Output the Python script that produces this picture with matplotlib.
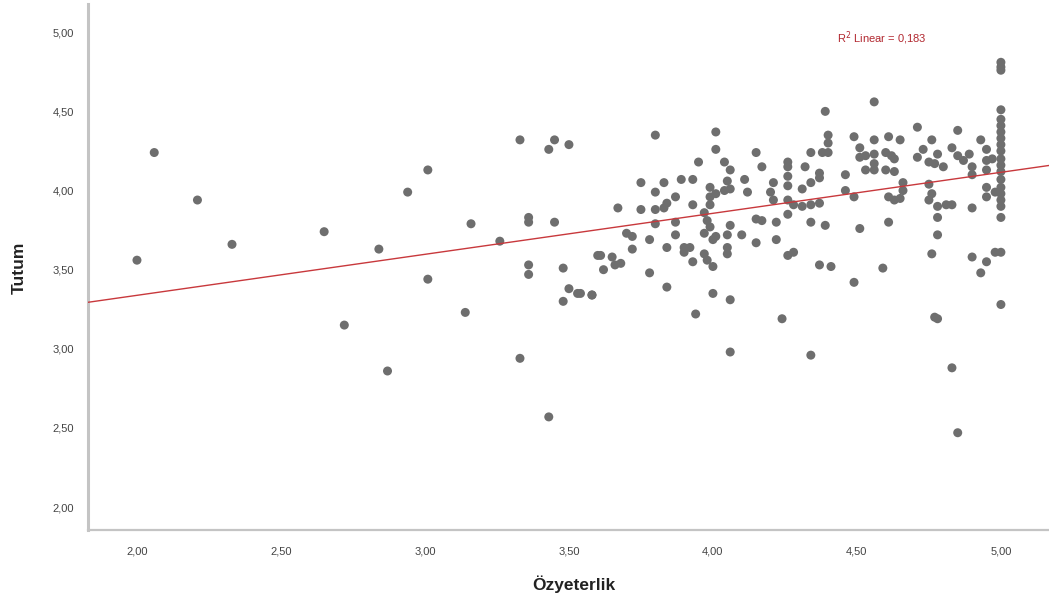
import matplotlib
matplotlib.use("Agg")
import matplotlib.pyplot as plt
from matplotlib.ticker import FuncFormatter
import numpy as np

plt.rcParams["font.family"] = ["Liberation Sans", "DejaVu Sans"]

# --- Data ---
ozyeterlik = [
    2.06, 2.21, 2.00, 2.33, 2.65, 2.84, 2.72, 2.87, 2.94, 3.01, 3.01, 3.16, 3.14, 3.26,
    3.33, 3.36, 3.36, 3.36, 3.36, 3.33, 3.43, 3.43, 3.45, 3.50, 3.45, 3.48, 3.50, 3.53,
    3.48, 3.58, 3.60,
    4.39, 4.56, 3.80, 4.01, 4.01, 4.15, 4.34, 4.40, 4.40, 4.40, 4.38, 4.49, 4.56, 4.61,
    4.65, 4.71, 4.76, 4.85, 4.93, 3.95, 4.04, 4.06, 4.17, 4.26, 4.26, 4.32, 4.51, 4.51,
    4.53, 4.56, 4.56, 4.53, 4.56, 4.60, 4.62, 4.63, 4.60, 4.63, 4.71, 4.73, 4.75, 4.77,
    4.78, 4.80, 4.83, 4.85, 4.87, 4.89, 4.90, 4.90, 4.95, 4.95, 4.95, 4.97, 4.46, 4.46,
    4.49, 3.75, 3.83, 3.89, 3.93, 3.80, 3.87, 3.84, 3.80, 3.75, 3.83, 3.67, 3.93, 3.99,
    3.99, 3.99, 4.01, 4.04, 4.05, 4.06, 4.11, 4.12, 4.21, 4.20, 4.21, 4.26, 4.26, 4.26,
    4.28, 4.31, 4.34, 4.37, 4.31, 4.34, 4.37, 4.37, 4.61, 4.63, 4.65, 4.66, 4.66, 4.75,
    4.76, 4.75, 4.78, 4.81, 4.83, 4.78, 4.90, 4.95, 4.95, 4.98,
    5.00, 5.00, 5.00, 5.00, 5.00, 5.00, 5.00, 5.00, 5.00, 5.00, 5.00, 5.00, 5.00, 5.00,
    5.00, 5.00, 5.00, 5.00, 5.00, 5.00, 5.00,
    3.80, 3.87, 3.87, 3.78, 3.72, 3.70, 3.72, 3.61, 3.65, 3.68, 3.62, 3.66, 3.78, 3.84,
    3.84, 3.90, 3.92, 3.90, 3.93, 3.97, 3.98, 3.99, 3.97, 4.00, 4.01, 4.05, 4.06, 4.10,
    4.05, 4.05, 3.97, 3.98, 4.00, 4.00, 4.06, 3.94, 4.06, 4.15, 4.17, 4.15, 4.22, 4.22,
    4.26, 4.26, 4.28, 4.24, 4.34, 4.39, 4.34, 4.37, 4.41, 4.49, 4.51, 4.61, 4.59, 4.78,
    4.76, 4.90, 4.93, 4.95, 4.98, 4.78, 3.54, 3.58, 4.83, 4.85, 4.77,
]
tutum = [
    4.24, 3.94, 3.56, 3.66, 3.74, 3.63, 3.15, 2.86, 3.99, 4.13, 3.44, 3.79, 3.23, 3.68,
    4.32, 3.83, 3.80, 3.53, 3.47, 2.94, 2.57, 4.26, 4.32, 4.29, 3.80, 3.51, 3.38, 3.35,
    3.30, 3.34, 3.59,
    4.50, 4.56, 4.35, 4.37, 4.26, 4.24, 4.24, 4.35, 4.30, 4.24, 4.24, 4.34, 4.32, 4.34,
    4.32, 4.40, 4.32, 4.38, 4.32, 4.18, 4.18, 4.13, 4.15, 4.18, 4.15, 4.15, 4.27, 4.21,
    4.22, 4.23, 4.17, 4.13, 4.13, 4.24, 4.22, 4.20, 4.13, 4.12, 4.21, 4.26, 4.18, 4.17,
    4.23, 4.15, 4.27, 4.22, 4.19, 4.23, 4.15, 4.10, 4.26, 4.19, 4.13, 4.20, 4.10, 4.00,
    3.96, 4.05, 4.05, 4.07, 4.07, 3.99, 3.96, 3.92, 3.88, 3.88, 3.89, 3.89, 3.91, 4.02,
    3.96, 3.91, 3.98, 4.00, 4.06, 4.01, 4.07, 3.99, 4.05, 3.99, 3.94, 4.09, 4.03, 3.94,
    3.91, 3.90, 3.91, 3.92, 4.01, 4.05, 4.08, 4.11, 3.96, 3.94, 3.95, 4.05, 4.00, 4.04,
    3.98, 3.94, 3.90, 3.91, 3.91, 3.83, 3.89, 4.02, 3.96, 3.99,
    4.81, 4.78, 4.76, 4.51, 4.45, 4.41, 4.37, 4.33, 4.29, 4.25, 4.20, 4.16, 4.12, 4.07,
    4.02, 3.98, 3.94, 3.90, 3.83, 3.61, 3.28,
    3.79, 3.80, 3.72, 3.69, 3.63, 3.73, 3.71, 3.59, 3.58, 3.54, 3.50, 3.53, 3.48, 3.39,
    3.64, 3.64, 3.64, 3.61, 3.55, 3.86, 3.81, 3.77, 3.73, 3.69, 3.71, 3.72, 3.78, 3.72,
    3.64, 3.60, 3.60, 3.56, 3.52, 3.35, 3.31, 3.22, 2.98, 3.82, 3.81, 3.67, 3.80, 3.69,
    3.85, 3.59, 3.61, 3.19, 3.80, 3.78, 2.96, 3.53, 3.52, 3.42, 3.76, 3.80, 3.51, 3.72,
    3.60, 3.58, 3.48, 3.55, 3.61, 3.19, 3.35, 3.34, 2.88, 2.47, 3.20,
]

fit_intercept = 2.82
fit_slope = 0.259
r2_label = "R$^2$ Linear = 0,183"

x_ticks = [2.0, 2.5, 3.0, 3.5, 4.0, 4.5, 5.0]
y_ticks = [2.0, 2.5, 3.0, 3.5, 4.0, 4.5, 5.0]
x_label = "Özyeterlik"
y_label = "Tutum"

# --- Figure ---
fig = plt.figure(figsize=(10.49, 6.01), dpi=100)
ax = fig.add_axes([0.0839, 0.118, 0.9161, 0.875])

ax.scatter(ozyeterlik, tutum, s=42, color="#6e6e6e", edgecolors="none", zorder=2)

xlim = (1.83, 5.167)
ylim = (1.855, 5.177)
xs = np.array(xlim)
ax.plot(xs, fit_intercept + fit_slope * xs, color="#c8383c", lw=1.0, zorder=3)

ax.set_xlim(*xlim)
ax.set_ylim(*ylim)

fmt = FuncFormatter(lambda v, p: f"{v:.2f}".replace(".", ","))
ax.set_xticks(x_ticks)
ax.set_yticks(y_ticks)
ax.xaxis.set_major_formatter(fmt)
ax.yaxis.set_major_formatter(fmt)
ax.tick_params(axis="both", length=0, labelsize=8, labelcolor="#444444")
ax.tick_params(axis="x", pad=12)
ax.tick_params(axis="y", pad=10)

for s in ["top", "right"]:
    ax.spines[s].set_visible(False)
ax.spines["left"].set_color("#c4c4c4")
ax.spines["left"].set_linewidth(2.2)
ax.spines["bottom"].set_color("#c4c4c4")
ax.spines["bottom"].set_linewidth(1.6)

ax.set_xlabel(x_label, fontsize=12.5, fontweight="bold", color="#222222")
ax.set_ylabel(y_label, fontsize=12.5, fontweight="bold", color="#222222")
ax.yaxis.set_label_coords(-0.064, (530 - 268) / 526)
ax.xaxis.set_label_coords((574 - 88) / 961, -0.086)

ax.text(4.43, 4.96, r2_label, color="#b22830", fontsize=8, va="center", ha="left")

fig.savefig("out.png", dpi=100)
